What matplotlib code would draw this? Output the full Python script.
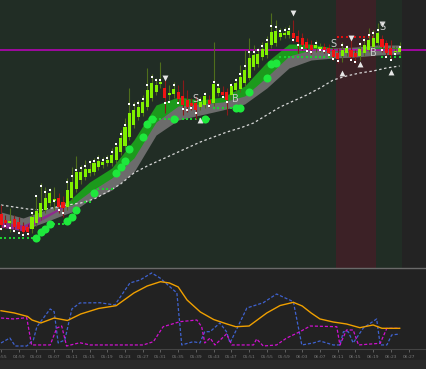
import matplotlib
matplotlib.use("Agg")
import matplotlib.pyplot as plt
from matplotlib.patches import Rectangle
import numpy as np

# 1 minute candles, bar 0 = 04:55 (price in chart units)
opens = [54, 48, 45, 49, 46, 42, 41, 39, 45, 51, 58, 65, 67, 70, 66, 61, 70, 79, 88, 91,
         95, 96, 101, 103, 105, 105, 108, 116, 122, 131, 143, 151, 155, 161, 170, 176, 184, 180, 173, 174,
         176, 172, 168, 165, 165, 161, 163, 168, 165, 175, 176, 176, 173, 178, 179, 185, 190, 201, 204, 211,
         213, 223, 225, 231, 233, 233, 235, 232, 230, 226, 223, 220, 219, 221, 220, 218, 215, 212, 215, 218,
         215, 212, 215, 218, 221, 225, 229, 225, 220, 216, 216]
highs = [63, 53, 60, 53, 51, 46, 44, 56, 73, 85, 81, 80, 81, 75, 72, 90, 101, 112, 103, 108,
         108, 110, 113, 111, 113, 120, 123, 138, 150, 180, 166, 168, 173, 200, 194, 190, 206, 188, 183, 186,
         183, 188, 178, 170, 172, 171, 176, 173, 226, 185, 182, 180, 185, 190, 203, 218, 230, 223, 220, 226,
         232, 255, 248, 240, 241, 243, 248, 238, 235, 230, 228, 228, 225, 225, 224, 221, 220, 226, 223, 230,
         218, 226, 230, 240, 238, 245, 233, 228, 228, 222, 226]
lows = [38, 40, 36, 36, 34, 32, 32, 35, 42, 48, 55, 62, 58, 55, 51, 58, 67, 76, 84, 88,
        92, 93, 98, 100, 102, 102, 105, 113, 120, 128, 140, 148, 152, 158, 167, 173, 180, 155, 168, 170,
        164, 153, 156, 158, 149, 158, 160, 161, 162, 172, 170, 153, 169, 175, 176, 182, 188, 198, 201, 208,
        210, 220, 222, 228, 230, 230, 226, 215, 218, 216, 214, 216, 216, 215, 212, 208, 205, 206, 212, 208,
        205, 208, 212, 216, 218, 222, 216, 211, 208, 213, 213]
closes = [43, 45, 47, 41, 39, 36, 36, 51, 57, 65, 70, 75, 69, 61, 60, 78, 86, 96, 96, 99,
          99, 105, 107, 106, 108, 113, 121, 130, 141, 155, 158, 161, 166, 178, 185, 183, 186, 170, 175, 179,
          169, 163, 161, 162, 158, 166, 172, 164, 184, 180, 173, 168, 182, 185, 191, 198, 210, 213, 214, 219,
          225, 236, 237, 235, 235, 237, 230, 226, 223, 220, 218, 223, 221, 218, 215, 211, 209, 218, 220, 211,
          211, 219, 223, 228, 230, 235, 221, 215, 213, 217, 220]
marks = [39, 42, 40, 37, 35, 33, 34, 55, 72, 82, 76, 78, 67, 58, 55, 86, 92, 98, 100, 102,
         106, 107, 110, 108, 110, 116, 124, 134, 143, 164, 163, 165, 169, 183, 191, 188, 188, 165, 166, 183,
         165, 159, 158, 160, 155, 168, 174, 162, 186, 183, 171, 166, 183, 188, 194, 202, 216, 216, 218, 222,
         228, 242, 241, 237, 238, 239, 228, 223, 220, 217, 216, 225, 218, 217, 213, 209, 207, 223, 221, 208,
         206, 224, 228, 233, 235, 238, 218, 211, 208, 214, 221]

# moving average ribbon
rib_bar = [0, 5, 10, 14, 16, 20, 25, 30, 35, 40, 45, 50, 55, 60, 65, 70, 75, 80, 85, 90]
fast = [41, 37, 50, 60, 70, 86, 100, 128, 163, 171, 168, 171, 182, 206, 224, 224, 220, 218, 221, 220]
slow = [46, 43, 53, 62, 63, 76, 90, 110, 146, 162, 164, 166, 172, 191, 212, 218, 217, 217, 218, 218]
band_hi = [56, 50, 58, 65, 68, 80, 96, 118, 156, 165, 166, 169, 178, 198, 218, 221, 220, 221, 223, 223]
band_lo = [42, 38, 46, 53, 56, 68, 78, 96, 133, 148, 153, 158, 164, 180, 200, 208, 210, 211, 213, 214]

# slow MA (white dashed)
ma_bar = list(range(0, 91, 3))
ma_val = [63, 61, 59, 58, 60.5, 63, 65, 69, 76, 84, 95, 102, 108, 114, 120, 126, 131, 136, 140, 145,
          153, 161, 167, 173, 180, 188, 192, 195, 197, 200, 202]

# trailing stop dots
stop_bar = [8, 9, 10, 11, 15, 16, 17, 21, 26, 27, 28, 29, 32, 33, 34, 39, 46, 53, 54, 56, 60, 61, 62]
stop_val = [30, 36, 39, 44, 47, 51, 58, 75, 95, 101, 107, 119, 131, 144, 149, 149, 149, 160, 160, 176,
            190, 204, 205]

# support / resistance levels (start bar, end bar, level)
sup_start = [0, 12, 19, 22, 35, 48, 63, 86]
sup_end = [7, 14, 20, 25, 47, 52, 75, 90]
sup_level = [30, 44, 66, 79, 149, 160, 211, 211]
res_start, res_end, res_level = 76, 84, 231

hline = 218

# signals
dn_bar = [37, 66, 79, 86]
dn_val = [190, 255, 230, 244]
up_bar = [45, 77, 81, 88]
up_val = [148, 195, 204, 196]
s_bar = [44, 75, 86]
s_val = [169, 224, 241]
b_bar = [53, 84]
b_val = [169, 215]

# oscillators
orange_bar = [0, 3, 6, 7, 9, 12, 15, 18, 22, 26, 30, 33, 36, 38, 40, 42, 45, 48, 51, 53,
              56, 60, 63, 66, 68, 70, 72, 75, 78, 81, 84, 86, 90]
orange_val = [46.6, 43.8, 39.4, 35, 31.3, 37.5, 34.4, 42.5, 49.4, 52.9, 68.8, 77.5, 82.9, 81.3, 76.3, 60,
              45, 35.6, 30, 26.6, 27.5, 43.8, 53.1, 57.1, 52.5, 43.8, 36.3, 32.5, 30, 25.4, 28.8, 24.6, 24.6]
blue_bar = [0, 2.0, 3.2, 5.8, 7.3, 8.1, 11.1, 12.0, 12.9, 14.4, 16.0, 17.8, 22.3, 25.7, 29.1, 31.4, 34.0,
            35.9, 39.7, 40.8, 43.4, 44.9, 46.0, 47.2, 49.4, 50.9, 51.7, 55.5, 59.2, 62.2, 66.0, 67.9, 70.5,
            72.0, 75.0, 76.5, 77.3, 78.4, 79.5, 81.8, 84.8, 85.6, 87.1, 88.2, 90]
blue_val = [6.3, 12.5, 2.5, 2.5, 10, 26.6, 48.8, 45.4, 6.3, 10, 48.8, 56.3, 56.6, 53.8, 81.3, 85, 93.8,
            87.5, 68.8, 3.8, 7.9, 6.3, 20.4, 20.4, 31.3, 20.4, 6.3, 50, 56.6, 67.5, 57.9, 3.8, 6.3,
            8.8, 3.8, 3.8, 20.4, 20.4, 6.3, 25, 36.3, 3.8, 3.8, 16.3, 17.5]
mag_bar = [0, 2.8, 5.8, 6.9, 11.1, 12.6, 13.7, 14.8, 17.8, 20.1, 32.1, 34.4, 36.6, 40.4, 44.2, 45.3,
           46.0, 47.2, 48.3, 50.9, 52.1, 57.0, 57.7, 59.2, 62.2, 64.5, 67.5, 69.8, 75.8, 76.5, 78.0,
           79.5, 80.7, 85.6, 87.1, 90]
mag_val = [37.5, 36.3, 37.9, 3.8, 3.8, 25, 27.5, 2.5, 6.6, 3.8, 3.8, 7.9, 26.6, 32.9, 35, 26.6,
           6.3, 12.5, 3.8, 17.5, 3.8, 3.8, 11.3, 2.5, 3.8, 12.5, 20.4, 27.5, 26.6, 3.8, 22.5,
           22.5, 3.8, 5.9, 24.6, 24.6]

tick_labels = ["04:55", "04:59", "05:03", "05:07", "05:11", "05:15", "05:19", "05:23", "05:27",
               "05:31", "05:35", "05:39", "05:43", "05:47", "05:51", "05:55", "05:59", "06:03",
               "06:07", "06:11", "06:15", "06:19", "06:23", "06:27"]

# ---------------------------------------------------------------
fig = plt.figure(figsize=(4.26, 3.69), dpi=100, facecolor="#222222")
fig.patches.append(Rectangle((0, 0), 1, 9 / 369, transform=fig.transFigure,
                             color="#2a2a2a", zorder=0))

ax = fig.add_axes([0, 101 / 369, 1, 268 / 369])
ax2 = fig.add_axes([0, 20 / 369, 1, 81 / 369])

x0, x1 = -0.23, 95.94
ax.set_facecolor("#212d25")
ax.axvspan(90.5, x1, color="#232323", lw=0, zorder=0)
ax.axvspan(75.6, 84.6, color="#3c2126", lw=0, zorder=0)

# ribbon
ax.fill_between(rib_bar, band_lo, band_hi, color="#6c6c6c", lw=0, zorder=1)
fa = np.array(fast)
sl = np.array(slow)
ax.fill_between(rib_bar, sl, fa, where=fa >= sl, interpolate=True, color="#1c9a1c", lw=0, zorder=2)
ax.fill_between(rib_bar, sl, fa, where=fa < sl, interpolate=True, color="#8e2a8e", lw=0, zorder=2)

ax.plot(ma_bar, ma_val, color="#d8d8d8", lw=0.9, ls=(0, (2, 2)), zorder=3)
ax.axhline(hline, color="#c000c0", lw=1.1, zorder=3)

# levels
for s, e, lv in zip(sup_start, sup_end, sup_level):
    b = np.arange(s, e + 1)
    ax.scatter(b, np.full(b.size, lv), s=3, marker="s", color="#1ed030", lw=0, zorder=4)
b = np.arange(res_start, res_end + 1)
ax.scatter(b, np.full(b.size, res_level), s=3, marker="s", color="#e01010", lw=0, zorder=4)

# candles
bars = np.arange(len(opens))
o = np.array(opens, float)
c = np.array(closes, float)
up = c >= o
body_col = np.where(up, "#80f000", "#f01414")
wick_col = np.where(up, "#4f6e1c", "#8a1a1a")
ax.vlines(bars, lows, highs, colors=wick_col, lw=0.8, zorder=5)
ax.bar(bars, np.maximum(np.abs(c - o), 1.2), bottom=np.minimum(o, c), width=0.7,
       color=body_col, lw=0, zorder=6)
ax.scatter(bars, marks, s=3, marker="s", color="white", lw=0, zorder=7)

ax.scatter(stop_bar, stop_val, s=34, color="#1ee83c", lw=0, zorder=8)

ax.scatter(dn_bar, dn_val, s=18, marker="v", color="#e6e6e6", lw=0, zorder=9)
ax.scatter(up_bar, up_val, s=18, marker="^", color="#e6e6e6", lw=0, zorder=9)
for bx, by in zip(s_bar, s_val):
    ax.text(bx, by, "S", color="#c8c8c8", fontsize=7, ha="center", va="center", zorder=10)
for bx, by in zip(b_bar, b_val):
    ax.text(bx, by, "B", color="#c8c8c8", fontsize=7, ha="center", va="center", zorder=10)

ax.set_xlim(x0, x1)
ax.set_ylim(0, 268)
ax.tick_params(bottom=False, labelbottom=False, left=False, labelleft=False)
for sp in ax.spines.values():
    sp.set_visible(False)

# lower panel
ax2.set_facecolor("#222222")
ax2.plot(orange_bar, orange_val, color="#f0a000", lw=1.0, zorder=3)
ax2.plot(blue_bar, blue_val, color="#3f62d0", lw=0.9, ls=(0, (2.5, 1.5)), zorder=2)
ax2.plot(mag_bar, mag_val, color="#d010d0", lw=0.9, ls=(0, (2.5, 1.5)), zorder=2)
ax2.set_ylim(-1.25, 100)
ax2.set_yticks([])
for sp in ["left", "right"]:
    ax2.spines[sp].set_visible(False)
ax2.spines["top"].set_color("#6a6a6a")
ax2.spines["top"].set_linewidth(1)
ax2.spines["bottom"].set_color("#444444")
ax2.spines["bottom"].set_linewidth(0.8)
ax2.set_xticks(np.arange(0, 4 * len(tick_labels), 4))
ax2.set_xticklabels(tick_labels)
ax2.tick_params(axis="x", colors="#7a7a7a", labelsize=3.2, length=2, width=0.5, pad=2)
ax2.set_xlim(x0, x1)

fig.savefig("out.png", dpi=100, facecolor=fig.get_facecolor())
